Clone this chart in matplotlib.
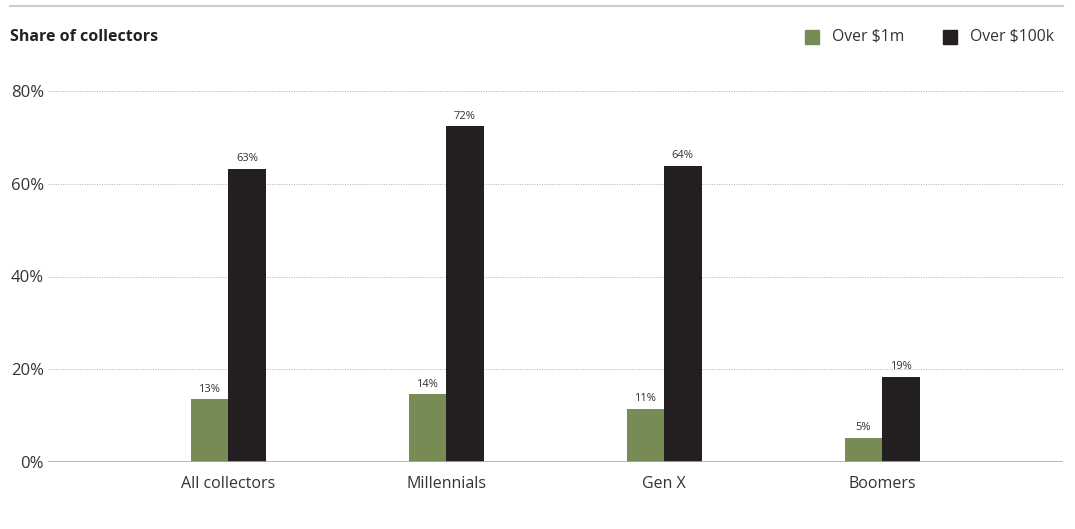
import numpy as np
import matplotlib
matplotlib.use("Agg")
import matplotlib.pyplot as plt
from matplotlib.patches import Rectangle
from matplotlib.lines import Line2D

plt.rcParams['font.family'] = ['Open Sans', 'DejaVu Sans']

groups = ["All collectors", "Millennials", "Gen X", "Boomers"]
over_1m = [13.5, 14.6, 11.4, 5.2]
over_100k = [63.2, 72.4, 63.8, 18.3]
labels_1m = ["13%", "14%", "11%", "5%"]
labels_100k = ["63%", "72%", "64%", "19%"]
yticks = [0, 20, 40, 60, 80]

green = "#778c55"
black = "#231f20"
text_col = "#333333"

fig = plt.figure(figsize=(10.75, 5.29), dpi=100)
ax = fig.add_axes([48 / 1075, 1 - 462 / 529, (1063 - 48) / 1075, (462 - 91) / 529])

x = np.arange(len(groups))
w = 0.172
b1 = ax.bar(x - w / 2, over_1m, w, color=green)
b2 = ax.bar(x + w / 2, over_100k, w, color=black)

for bars, labs in ((b1, labels_1m), (b2, labels_100k)):
    for r, lab in zip(bars, labs):
        ax.text(r.get_x() + r.get_width() / 2, r.get_height() + 1.0, lab,
                ha="center", va="bottom", fontsize=8, color=text_col)

ax.set_xlim(-0.826, 3.83)
ax.set_ylim(0, 80)
ax.set_yticks(yticks)
ax.set_yticklabels([f"{v}%" for v in yticks])
ax.set_xticks(x)
ax.set_xticklabels(groups)
ax.tick_params(axis="y", length=0, labelsize=12, colors=text_col, pad=3)
ax.tick_params(axis="x", length=0, labelsize=11.5, colors=text_col, pad=10)
for s in ax.spines.values():
    s.set_visible(False)
ax.set_axisbelow(True)
for v in yticks[1:]:
    ax.axhline(v, color="#b0b0b0", lw=0.7, ls=(0, (1, 1.5)), zorder=0)
ax.axhline(0, color="#aaaaaa", lw=1.2, zorder=3)

# top rule
fig.add_artist(Line2D([10 / 1075, 1063 / 1075], [1 - 6 / 529] * 2, color="#cccccc", lw=1.5))
fig.text(10 / 1075, 1 - 37 / 529, "Share of collectors", fontsize=11.5, weight="bold",
         color="#222222", va="center", ha="left")

# legend
for sx, col, lab in ((805, green, "Over $1m"), (943, black, "Over $100k")):
    fig.add_artist(Rectangle((sx / 1075, 1 - 44 / 529), 14 / 1075, 14 / 529,
                             color=col, transform=fig.transFigure))
    fig.text((sx + 27) / 1075, 1 - 37 / 529, lab, fontsize=11.3, color=text_col,
             va="center", ha="left")

fig.savefig("out.png", dpi=100)
